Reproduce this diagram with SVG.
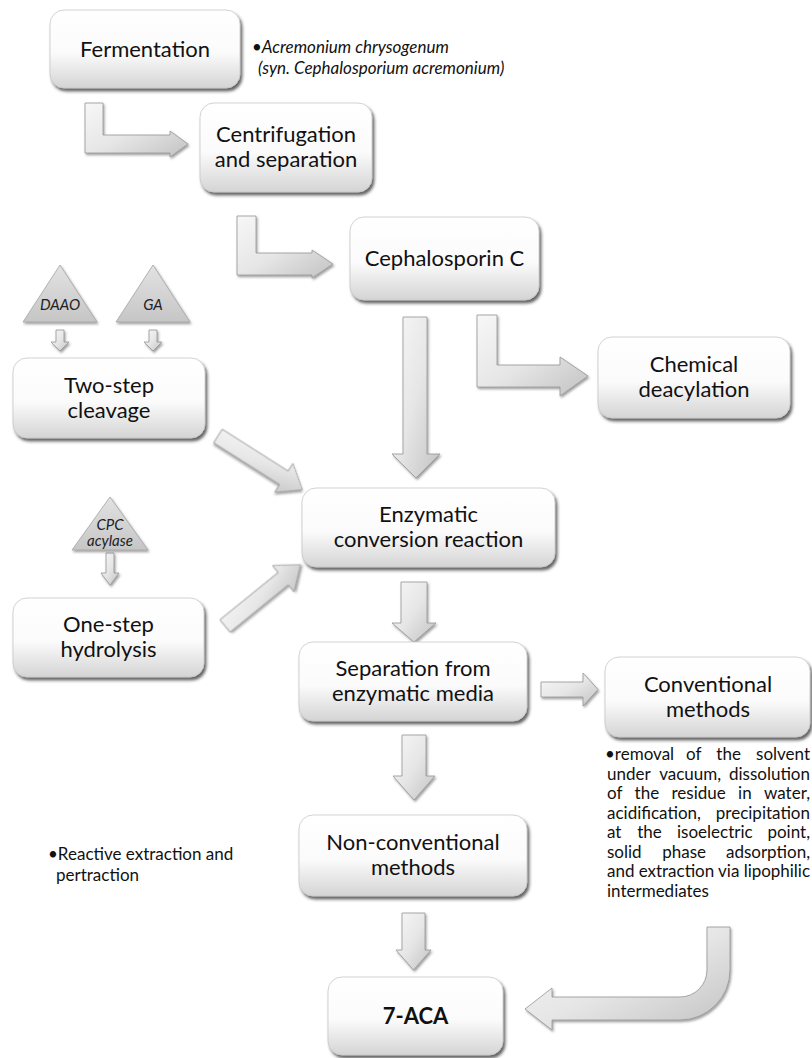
<svg xmlns="http://www.w3.org/2000/svg" width="812" height="1058" viewBox="0 0 812 1058">
<defs>
<linearGradient id="bg" x1="0" y1="0" x2="0" y2="1">
<stop offset="0" stop-color="#ffffff"/><stop offset="0.55" stop-color="#fbfbfb"/><stop offset="1" stop-color="#d4d4d4"/>
</linearGradient>
<linearGradient id="ag" x1="0" y1="0" x2="1" y2="1">
<stop offset="0" stop-color="#f7f7f7"/><stop offset="0.5" stop-color="#e6e6e6"/><stop offset="1" stop-color="#c2c2c2"/>
</linearGradient>
<linearGradient id="tg" x1="0" y1="0" x2="0" y2="1">
<stop offset="0" stop-color="#e2e2e2"/><stop offset="1" stop-color="#c6c6c6"/>
</linearGradient>
<filter id="sh" x="-10%" y="-10%" width="125%" height="130%">
<feDropShadow dx="2" dy="3" stdDeviation="1.6" flood-color="#303030" flood-opacity="0.75"/>
</filter>
<filter id="ash" x="-15%" y="-15%" width="135%" height="135%">
<feDropShadow dx="1.2" dy="1.8" stdDeviation="1.2" flood-color="#404040" flood-opacity="0.5"/>
</filter>
<style>
.box{fill:url(#bg);stroke:#c8c8c8;stroke-width:0.8;filter:url(#sh)}
.arr{fill:url(#ag);stroke:#959595;stroke-width:0.8;stroke-linejoin:miter;filter:url(#ash)}
.tri{fill:url(#tg);stroke:#a5a5a5;stroke-width:0.8;filter:url(#ash)}
.t{font-family:Lato,"Liberation Sans",sans-serif;font-size:22px;fill:#111;text-anchor:middle}
.b{font-weight:bold}
.ti{font-family:Lato,"Liberation Sans",sans-serif;font-size:15px;font-style:italic;fill:#222;text-anchor:middle}
.n{font-family:Lato,"Liberation Sans",sans-serif;font-size:17px;fill:#111}
.m{text-anchor:middle}
.e{text-anchor:end}
.ni{font-family:Lato,"Liberation Sans",sans-serif;font-size:17px;font-style:italic;fill:#111}
</style>
</defs>
<rect width="812" height="1058" fill="#ffffff"/>

<g id="connectors">
<path class="arr" d="M85,103 H103 V135 H170 V131 L188,144 L170,157 V153 H85 Z"/>
<path class="arr" d="M237,216 H256 V253 H312 V250 L333,264 L312,278 V275 H237 Z"/>
<path class="arr" d="M477,315 H497 V365 H560 V357 L588,376 L560,396 V387 H477 Z"/>
<path class="arr" d="M403,317 H427 V454 H440 L416,478 L392,454 H403 Z"/>
<path class="arr" transform="translate(218,436) rotate(32.4)" d="M0,-8 H78 V-17 L100,0 L78,17 V8 H0 Z"/>
<path class="arr" transform="translate(225,626) rotate(-39.1)" d="M0,-8 H75 V-17 L97,0 L75,17 V8 H0 Z"/>
<path class="arr" d="M401,582 H427 V623 H436 L414,642 L392,623 H401 Z"/>
<path class="arr" d="M541,682 H583 V673 L598,689.5 L583,706 V697 H541 Z"/>
<path class="arr" d="M402,735 H426 V776 H435 L414,800 L393,776 H402 Z"/>
<path class="arr" d="M402,913 H425 V950 H431 L413.5,970 L396,950 H402 Z"/>
<path class="arr" d="M730,927 V970 A50,50 0 0 1 680,1020 H552 V1030 L525,1009 L552,988 V997 H680 A27,27 0 0 0 707,970 V927 Z"/>
<path class="arr" d="M56,330 H64 V342 H69 L60,351 L51,342 H56 Z"/>
<path class="arr" d="M149,330 H157 V342 H162 L153,351 L144,342 H149 Z"/>
<path class="arr" d="M106,553 H114 V573 H119 L110,585 L101,573 H106 Z"/>
</g>

<g id="fermentation">
<rect class="box" x="50" y="10" width="190" height="78" rx="14"/>
<text class="t" x="145" y="57">Fermentation</text>
</g>
<g id="organism-note">
<text class="ni" x="252" y="53">•Acremonium chrysogenum</text>
<text class="ni" x="258" y="74">(syn. Cephalosporium acremonium)</text>
</g>
<g id="centrifugation">
<rect class="box" x="200" y="103" width="172" height="89" rx="14"/>
<text class="t" x="286" y="142">Centrifugation</text>
<text class="t" x="286" y="167">and separation</text>
</g>
<g id="cephalosporin-c">
<rect class="box" x="350" y="217" width="189" height="83" rx="14"/>
<text class="t" x="444.5" y="266">Cephalosporin C</text>
</g>
<g id="chemical-deacylation">
<rect class="box" x="598" y="337" width="192" height="81" rx="14"/>
<text class="t" x="694" y="372">Chemical</text>
<text class="t" x="694" y="397">deacylation</text>
</g>
<g id="daao">
<path class="tri" d="M60,265 L97,322 L23,322 Z"/>
<text class="ti" x="60" y="310">DAAO</text>
</g>
<g id="ga">
<path class="tri" d="M153,265 L190,322 L116,322 Z"/>
<text class="ti" x="153" y="310">GA</text>
</g>
<g id="two-step-cleavage">
<rect class="box" x="13" y="358" width="192" height="80" rx="14"/>
<text class="t" x="109" y="393">Two-step</text>
<text class="t" x="109" y="418">cleavage</text>
</g>
<g id="enzymatic-conversion">
<rect class="box" x="302" y="488" width="253" height="79" rx="14"/>
<text class="t" x="428.5" y="522">Enzymatic</text>
<text class="t" x="428.5" y="547">conversion reaction</text>
</g>
<g id="cpc-acylase">
<path class="tri" d="M110,497 L148,550 L72,550 Z"/>
<text class="ti" x="110" y="530">CPC</text>
<text class="ti" x="110" y="546">acylase</text>
</g>
<g id="one-step-hydrolysis">
<rect class="box" x="13" y="598" width="191" height="79" rx="14"/>
<text class="t" x="108.5" y="632">One-step</text>
<text class="t" x="108.5" y="657">hydrolysis</text>
</g>
<g id="separation">
<rect class="box" x="299" y="642" width="228" height="79" rx="14"/>
<text class="t" x="413" y="676">Separation from</text>
<text class="t" x="413" y="701">enzymatic media</text>
</g>
<g id="conventional-methods">
<rect class="box" x="605" y="657" width="205" height="80" rx="14"/>
<text class="t" x="708" y="692">Conventional</text>
<text class="t" x="708" y="717">methods</text>
</g>
<g id="conventional-note">
<text class="n" x="605" y="760">•removal</text>
<text class="n m" x="693.7" y="760">of</text>
<text class="n m" x="728.6" y="760">the</text>
<text class="n e" x="810" y="760">solvent</text>
<text class="n" x="607" y="779.5">under</text>
<text class="n m" x="690.2" y="779.5">vacuum,</text>
<text class="n e" x="810" y="779.5">dissolution</text>
<text class="n" x="607" y="799">of</text>
<text class="n m" x="646.9" y="799">the</text>
<text class="n m" x="698.6" y="799">residue</text>
<text class="n m" x="744.9" y="799">in</text>
<text class="n e" x="810" y="799">water,</text>
<text class="n" x="607" y="818.5">acidification,</text>
<text class="n e" x="810" y="818.5">precipitation</text>
<text class="n" x="607" y="838">at</text>
<text class="n m" x="649.5" y="838">the</text>
<text class="n m" x="714.8" y="838">isoelectric</text>
<text class="n e" x="810" y="838">point,</text>
<text class="n" x="607" y="857.5">solid</text>
<text class="n m" x="684.2" y="857.5">phase</text>
<text class="n e" x="810" y="857.5">adsorption,</text>
<text class="n" x="607" y="877" textLength="203" lengthAdjust="spacing">and extraction via lipophilic</text>
<text class="n" x="607" y="896.5">intermediates</text>
</g>
<g id="non-conventional-methods">
<rect class="box" x="299" y="815" width="228" height="81" rx="14"/>
<text class="t" x="413" y="850">Non-conventional</text>
<text class="t" x="413" y="875">methods</text>
</g>
<g id="reactive-note">
<text class="n" x="48" y="860">•Reactive extraction and</text>
<text class="n" x="56" y="881">pertraction</text>
</g>
<g id="seven-aca">
<rect class="box" x="328" y="977" width="175" height="78" rx="14"/>
<text class="t b" x="415.5" y="1024">7-ACA</text>
</g>
</svg>
